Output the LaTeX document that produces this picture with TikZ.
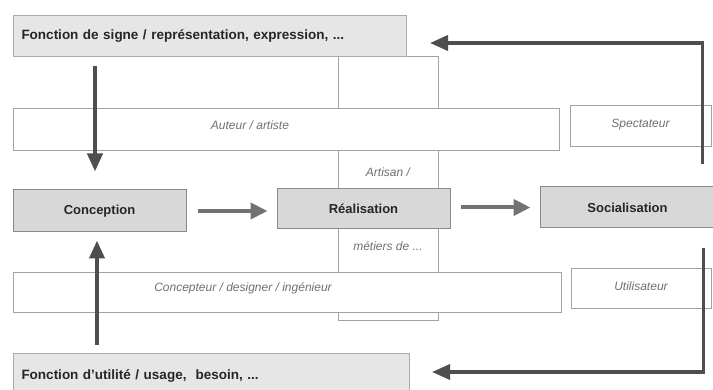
\documentclass[tikz,border=0pt]{standalone}
\usepackage{fontspec}
\setmainfont{Liberation Sans}
\usetikzlibrary{arrows.meta,calc}
\definecolor{boxfill}{HTML}{D8D8D8}
\definecolor{boxline}{HTML}{8A8A8A}
\definecolor{fonfill}{HTML}{E6E6E6}
\definecolor{fonline}{HTML}{ABABAB}
\definecolor{bandline}{HTML}{A3A3A3}
\definecolor{softtext}{HTML}{707070}
\definecolor{darkarrow}{HTML}{4E4E4E}
\definecolor{midarrow}{HTML}{727272}
\tikzset{
  stagebox/.style={draw=boxline, fill=boxfill, line width=1pt, inner sep=0pt,
    font=\fontsize{13}{15}\selectfont\bfseries, text=black!85},
  fonbox/.style={draw=fonline, fill=fonfill, line width=1pt, inner sep=0pt,
    anchor=north west, font=\fontsize{13.5}{15}\selectfont\bfseries, text=black!85,
    align=left, inner xsep=8pt},
  bandbox/.style={draw=bandline, fill=white, line width=0.9pt, inner sep=0pt},
  roletext/.style={font=\fontsize{12}{14}\selectfont\itshape, text=softtext, inner sep=0pt},
  darr/.style={draw=darkarrow, line width=4pt, -{Triangle[length=18pt,width=15pt]}},
  harr/.style={draw=midarrow, line width=4pt, -{Triangle[length=17pt,width=16pt]}}
}
\begin{document}
\begin{tikzpicture}[x=1pt,y=-1pt]
\clip (0,0) rectangle (713,390);
\fill[white] (0,0) rectangle (713,390);
% central column
\node[bandbox, minimum width=100pt, minimum height=264pt] (col) at (388,188) {};
% role bands
\node[bandbox, minimum width=546pt, minimum height=42pt] (auteur) at (286,129) {};
\node[roletext] (auteurtxt) at (250,125) {Auteur / artiste};
\node[bandbox, minimum width=548pt, minimum height=40pt] (concband) at (287,292) {};
\node[roletext] (conctxt) at (243,288) {Concepteur / designer / ingénieur};
\node[bandbox, minimum width=141pt, minimum height=41pt, roletext, draw=bandline] (spect) at (640.5,125.5) {\raisebox{4pt}{Spectateur}};
\node[bandbox, minimum width=140pt, minimum height=40pt, roletext, draw=bandline] (util) at (641,288) {\raisebox{3pt}{Utilisateur}};
\node[roletext] (artisan) at (388,172) {Artisan /};
\node[roletext] (metiers) at (388,246) {métiers de ...};
% function boxes
\node[fonbox, minimum height=41pt, text width=377pt] (topf) at (13,15) {\raisebox{2pt}{Fonction de signe / représentation, expression, ...}};
\node[fonbox, minimum height=45pt, text width=380pt] (botf) at (13,353) {\raisebox{3pt}{Fonction d'utilité / usage,\ \ besoin, ...}};
% stage boxes
\node[stagebox, minimum width=173pt, minimum height=42pt] (concep) at (99.5,211) {Conception};
\node[stagebox, minimum width=173pt, minimum height=40pt] (real) at (363.5,209) {Réalisation};
\node[stagebox, minimum width=175pt, minimum height=41pt] (social) at (627.5,207.5) {Socialisation};
% arrows
\coordinate (dstart) at ($(topf.south west)+(82,9)$);
\draw[darr, shorten >=18pt] (dstart) -- (dstart |- concep.north);
\coordinate (ustart) at ($(botf.north west)+(84,-8)$);
\draw[darr, shorten >=8pt] (ustart) -- (ustart |- concep.south);
\draw[harr, shorten <=11pt, shorten >=9pt] (concep.east) -- (concep.east -| real.west);
\draw[harr, shorten <=10pt, shorten >=9pt] (real.east |- social.west) -- (social.west);
\coordinate (tstart) at ($(social.north east)+(-13,-22)$);
\coordinate (tcorner) at (tstart |- 0,43);
\draw[darr, line width=3.6pt] (tstart) -- (tcorner) -- ($(topf.east |- tcorner)+(23,0)$);
\coordinate (bstart) at ($(social.south east)+(-12,20)$);
\coordinate (bcorner) at (bstart |- 0,372);
\draw[darr, line width=3.6pt] (bstart) -- (bcorner) -- ($(botf.east |- bcorner)+(22,0)$);
\end{tikzpicture}
\end{document}
